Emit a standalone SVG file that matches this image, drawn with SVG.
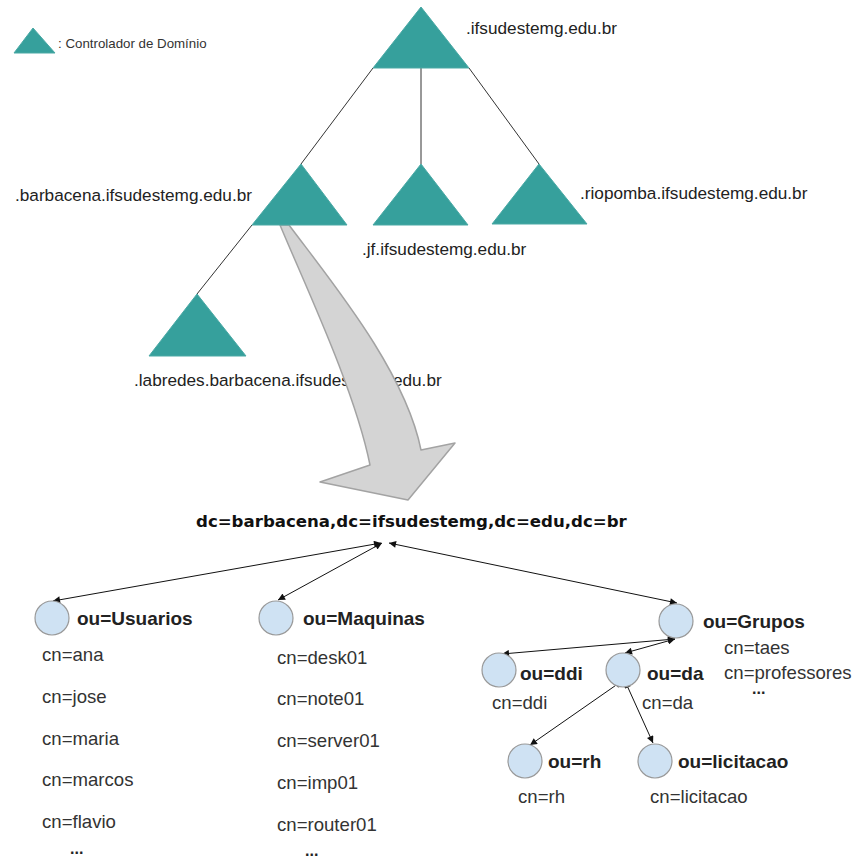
<svg xmlns="http://www.w3.org/2000/svg" width="859" height="859" viewBox="0 0 859 859">
<defs>
<style>
.dc{fill:#36a09c;stroke:#4aa9a5;stroke-width:1}
.lbl{font-family:"Liberation Sans",Arial,sans-serif;font-size:17.2px;fill:#222}
.tl{stroke:#333;stroke-width:1;fill:none}
.ou{fill:#cfe2f3;stroke:#999;stroke-width:1.2}
.oub{font-family:"Liberation Sans",Arial,sans-serif;font-size:19px;font-weight:bold;fill:#222}
.dots{font-family:"Liberation Sans",Arial,sans-serif;font-size:16px;font-weight:bold;fill:#222}
.cn{font-family:"Liberation Sans",Arial,sans-serif;font-size:18.6px;fill:#333}
.con{stroke:#111;stroke-width:1;fill:none;marker-start:url(#ah);marker-end:url(#ah)}
</style>
<marker id="ah" viewBox="0 0 10 10" refX="10" refY="5" markerWidth="10" markerHeight="7" markerUnits="userSpaceOnUse" orient="auto-start-reverse">
<path d="M0,0 L10,5 L0,10 z" fill="#111"/>
</marker>
</defs>
<rect width="859" height="859" fill="#fff"/>

<g id="legend">
<polygon class="dc" points="33,28 14,53 55,53"/>
<text x="58" y="48" font-family="Liberation Sans,Arial,sans-serif" font-size="13.3" fill="#333">: Controlador de Domínio</text>
</g>

<g id="tree-lines">
<line class="tl" x1="373" y1="68" x2="301" y2="164"/>
<line class="tl" x1="421" y1="68" x2="421" y2="164"/>
<line class="tl" x1="469" y1="68" x2="539" y2="164"/>
<line class="tl" x1="252" y1="225" x2="197" y2="294"/>
</g>

<g id="dc-ifsudestemg">
<polygon class="dc" points="421,7 373,68 469,68"/>
<text class="lbl" x="466" y="34">.ifsudestemg.edu.br</text>
</g>

<g id="dc-labredes">
<polygon class="dc" points="197,294 149,356 246,356"/>
<text class="lbl" x="134" y="386">.labredes.barbacena.ifsudestemg.edu.br</text>
</g>

<g id="big-arrow">
<path d="M280,225 C305,285 355,390 370,465 L320,482 L408,500 L455,443 L421,450 C405,370 330,280 289,225 Z" fill="#d4d4d4" stroke="#a3a3a3" stroke-width="1.5" stroke-linejoin="round"/>
</g>

<g id="dc-barbacena">
<polygon class="dc" points="301,164 252,225 347,225"/>
<text class="lbl" x="15" y="201">.barbacena.ifsudestemg.edu.br</text>
</g>
<g id="dc-jf">
<polygon class="dc" points="421,164 373,225 468,225"/>
<text class="lbl" x="362" y="255">.jf.ifsudestemg.edu.br</text>
</g>
<g id="dc-riopomba">
<polygon class="dc" points="539,164 492,224 587,224"/>
<text class="lbl" x="580" y="199">.riopomba.ifsudestemg.edu.br</text>
</g>

<g id="root">
<text x="196" y="527" font-family="DejaVu Sans,Verdana,sans-serif" font-size="16.6" font-weight="bold" fill="#111">dc=barbacena,dc=ifsudestemg,dc=edu,dc=br</text>
</g>

<g id="connectors">
<line class="con" x1="381" y1="543" x2="53" y2="601"/>
<line class="con" x1="382" y1="543" x2="278" y2="600"/>
<line class="con" x1="389" y1="543" x2="677" y2="603"/>
<line class="con" x1="675" y1="639" x2="502" y2="654"/>
<line class="con" x1="675" y1="639" x2="625" y2="653"/>
<line class="con" x1="622" y1="681" x2="530" y2="745"/>
<line class="con" x1="625" y1="681" x2="653" y2="743"/>
</g>

<g id="ou-usuarios">
<circle class="ou" cx="52" cy="618" r="17"/>
<text class="oub" x="77" y="625">ou=Usuarios</text>
<text class="cn" x="42" y="661">cn=ana</text>
<text class="cn" x="42" y="703">cn=jose</text>
<text class="cn" x="42" y="745">cn=maria</text>
<text class="cn" x="42" y="786">cn=marcos</text>
<text class="cn" x="42" y="828">cn=flavio</text>
<text class="dots" x="70" y="854">...</text>
</g>

<g id="ou-maquinas">
<circle class="ou" cx="276" cy="618" r="17"/>
<text class="oub" x="303" y="625">ou=Maquinas</text>
<text class="cn" x="277" y="664">cn=desk01</text>
<text class="cn" x="277" y="705">cn=note01</text>
<text class="cn" x="277" y="747">cn=server01</text>
<text class="cn" x="277" y="789">cn=imp01</text>
<text class="cn" x="277" y="831">cn=router01</text>
<text class="dots" x="305" y="856">...</text>
</g>

<g id="ou-grupos">
<circle class="ou" cx="676" cy="621" r="17"/>
<text class="oub" x="703" y="628">ou=Grupos</text>
<text class="cn" x="724" y="654">cn=taes</text>
<text class="cn" x="724" y="679">cn=professores</text>
<text class="dots" x="752" y="694">...</text>
</g>

<g id="ou-ddi">
<circle class="ou" cx="499" cy="670" r="17"/>
<text class="oub" x="520" y="680">ou=ddi</text>
<text class="cn" x="492" y="709">cn=ddi</text>
</g>

<g id="ou-da">
<circle class="ou" cx="623" cy="670" r="17"/>
<text class="oub" x="647" y="680">ou=da</text>
<text class="cn" x="642" y="709">cn=da</text>
</g>

<g id="ou-rh">
<circle class="ou" cx="525" cy="761" r="17"/>
<text class="oub" x="548" y="768">ou=rh</text>
<text class="cn" x="518" y="803">cn=rh</text>
</g>

<g id="ou-licitacao">
<circle class="ou" cx="655" cy="761" r="17"/>
<text class="oub" x="678" y="768">ou=licitacao</text>
<text class="cn" x="650" y="803">cn=licitacao</text>
</g>
</svg>
